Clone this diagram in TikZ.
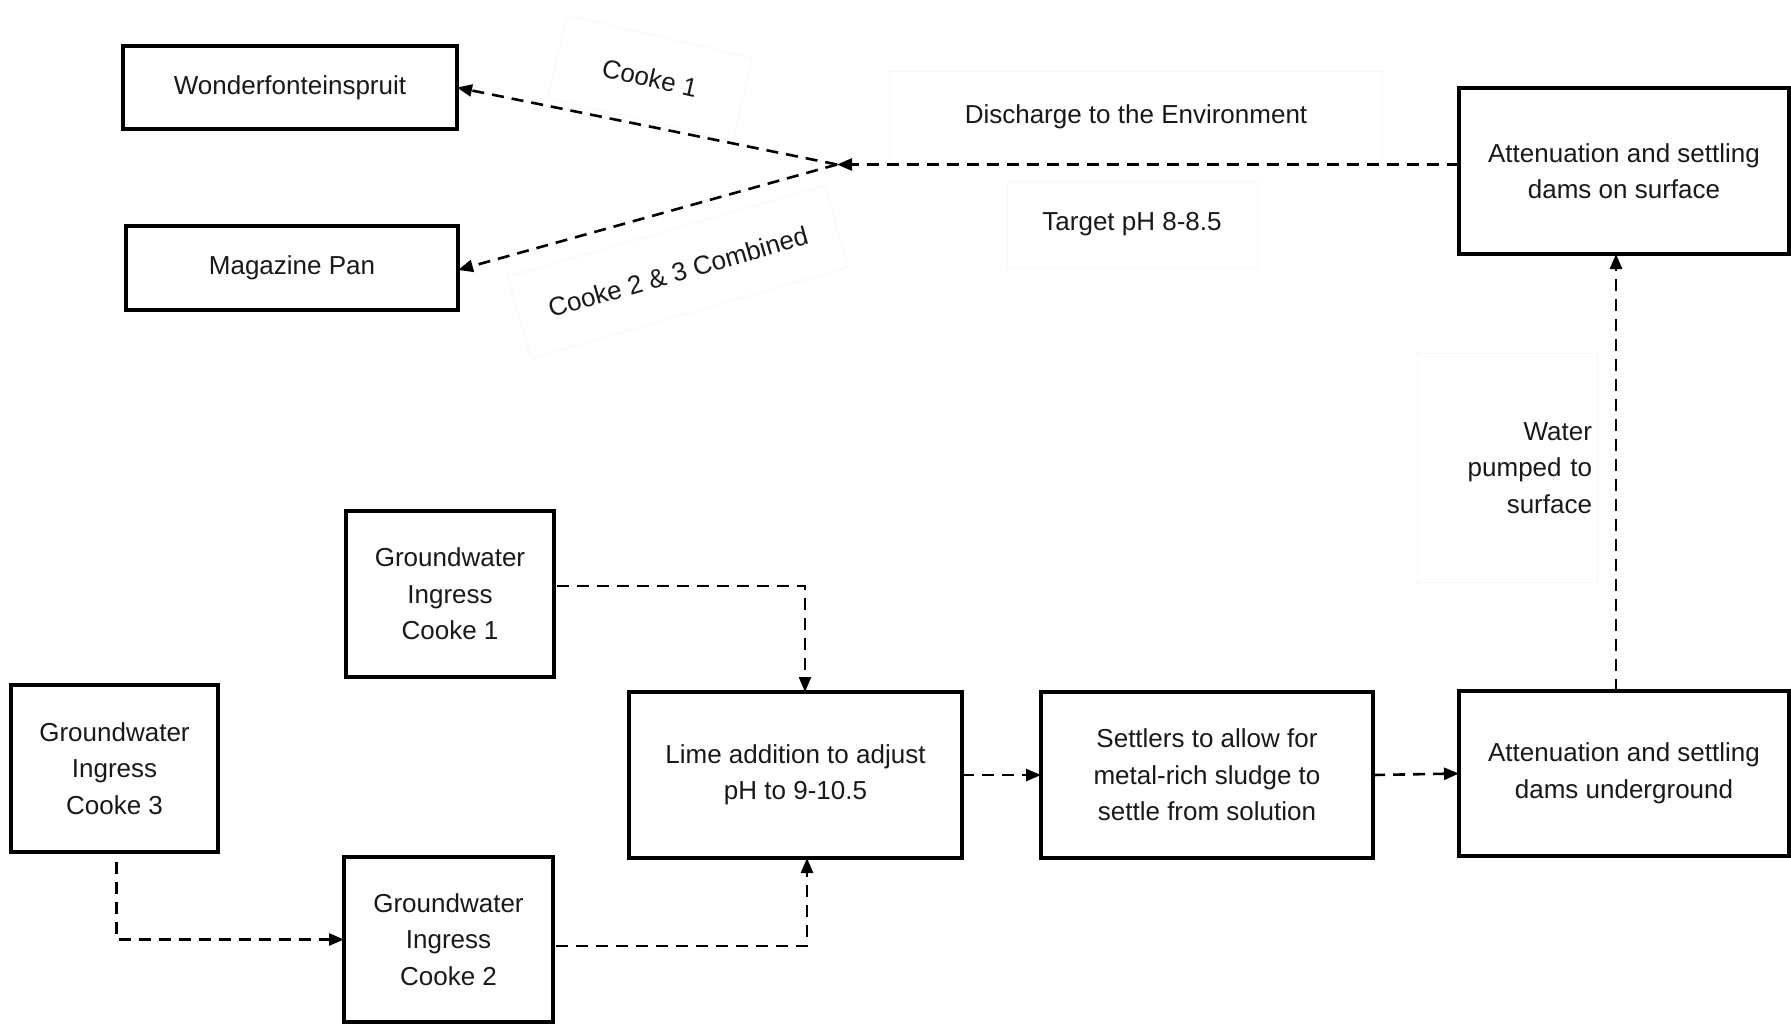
\documentclass[tikz,border=0pt]{standalone}
\usepackage{fontspec}
\setmainfont{Liberation Sans}
\usetikzlibrary{arrows.meta,positioning}
\begin{document}
\begin{tikzpicture}[x=1pt,y=-1pt,
  every node/.style={font=\fontsize{26}{36.5}\selectfont, text=black!90},
  procbox/.style={draw=black, line width=3.8pt, align=center, inner sep=0pt, outer sep=0pt},
  lbl/.style={draw=black!3, line width=0.8pt, align=center, inner sep=0pt},
  flow/.style={line width=2.6pt, dash pattern=on 12pt off 8pt, -{Triangle[length=15pt,width=12pt]}}
]
\useasboundingbox[fill=white] (0,0) rectangle (1791,1025);

% boxes
\node[procbox, minimum width=334pt, minimum height=83pt] (wond) at (290,87.5) {Wonderfonteinspruit};
\node[procbox, minimum width=332pt, minimum height=84pt] (mag) at (292,268) {Magazine Pan};
\node[procbox, minimum width=330pt, minimum height=166pt] (surf) at (1624,171) {Attenuation and settling\\dams on surface};
\node[procbox, minimum width=208pt, minimum height=166pt] (c1) at (450,594) {Groundwater\\Ingress\\Cooke 1};
\node[procbox, minimum width=207pt, minimum height=167pt] (c3) at (114.5,768.5) {Groundwater\\Ingress\\Cooke 3};
\node[procbox, minimum width=209pt, minimum height=165pt] (c2) at (448.5,939.5) {Groundwater\\Ingress\\Cooke 2};
\node[procbox, minimum width=333pt, minimum height=166pt] (lime) at (795.5,775) {Lime addition to adjust\\pH to 9-10.5};
\node[procbox, minimum width=332pt, minimum height=166pt] (settle) at (1207,775) {Settlers to allow for\\metal-rich sludge to\\settle from solution};
\node[procbox, minimum width=330pt, minimum height=165pt] (under) at (1624,773.5) {Attenuation and settling\\dams underground};

% labels
\node[lbl, minimum width=493pt, minimum height=91pt] (ldis) at (1136,117) {Discharge to the Environment};
\node[lbl, minimum width=250pt, minimum height=86pt] (ltar) at (1132,224) {Target pH 8-8.5};
\node[lbl, minimum width=180pt, minimum height=229pt, align=right, text width=170pt] (lwat) at (1507,468) {Water\\pumped to\\surface};
\node[lbl, rotate=-13, minimum width=190pt, minimum height=85pt] (lc1) at (650,78) {Cooke 1};
\node[lbl, rotate=16, minimum width=330pt, minimum height=85pt] (lc23) at (678,272) {Cooke 2 \& 3 Combined};

% junction
\coordinate (J) at (837,164.5);

% connectors
\draw[flow] (surf.west |- J) -- (J);
\draw[flow] (J) -- (wond.east);
\draw[flow] (J) -- ([yshift=-2pt]mag.east);
\draw[flow] ([xshift=-8pt]under.north) -- ([xshift=-8pt]surf.south);
\draw[flow, shorten <=3pt] ([yshift=8pt]c1.east) -| ([xshift=9.5pt]lime.north);
\draw[flow, shorten <=3pt] ([yshift=-6.5pt]c2.east) -| ([xshift=11.5pt]lime.south);
\draw[flow, shorten <=10pt] ([xshift=2pt]c3.south) |- (c2.west);
\draw[flow] (lime.east) -- (settle.west);
\draw[flow] (settle.east) -- (under.west);
\end{tikzpicture}
\end{document}
